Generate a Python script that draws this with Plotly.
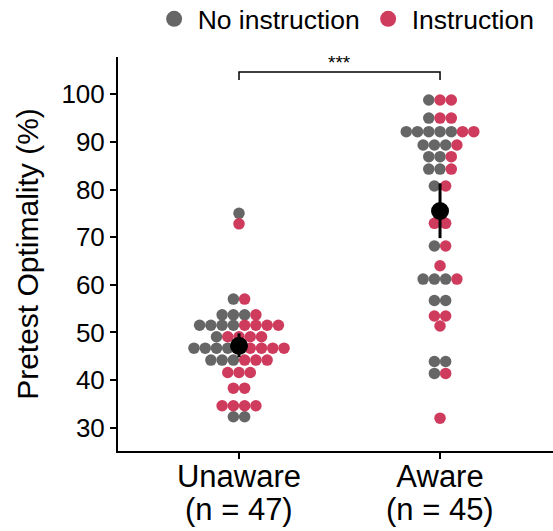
import plotly.graph_objects as go

# Groups on the x axis
categories = ["Unaware", "Aware"]
conditions = ["No instruction", "Instruction"]

# Pretest optimality (%) per participant
unaware_no_instruction = [75.0, 57.0, 53.7, 53.7, 53.7, 51.5, 51.5, 51.5, 51.5, 49.1,
                          46.7, 46.7, 46.7, 46.7, 46.7, 44.2, 44.2, 44.2, 32.3, 32.3]
unaware_instruction = [72.8, 57.0, 53.7, 51.5, 51.5, 51.5, 51.5, 49.1, 49.1, 49.1, 49.1,
                       46.7, 46.7, 46.7, 46.7, 44.2, 44.2, 44.2, 41.6, 41.6, 41.6,
                       38.3, 38.3, 34.6, 34.6, 34.6, 34.6]
aware_no_instruction = [98.8, 95.0, 92.15, 92.15, 92.15, 92.15, 92.15, 89.35, 89.35, 89.35,
                        86.9, 86.9, 84.3, 84.3, 80.75, 75.5, 68.15, 61.2, 61.2, 61.2,
                        56.7, 56.7, 43.9, 43.9, 41.4]
aware_instruction = [98.8, 98.8, 95.0, 95.0, 92.15, 92.15, 89.35, 86.9, 84.3, 80.75,
                     72.9, 72.9, 68.15, 64.0, 61.2, 53.45, 53.45, 51.35, 41.4, 32.0]

# Group means with 95% confidence intervals
group_means = [47.2, 75.5]
ci_low = [44.8, 69.8]
ci_high = [49.8, 81.3]

y_ticks = [30, 40, 50, 60, 70, 80, 90, 100]

colors = {"No instruction": "#666666", "Instruction": "#CF3B5C"}

DOT_STEP = 0.056  # horizontal spacing between neighbouring dots (x units)


def swarm(groups, center):
    """Lay out dots of equal value side by side, centred on the category."""
    rows = {}
    for gi, vals in enumerate(groups):
        for v in vals:
            rows.setdefault(v, []).append(gi)
    out = {gi: ([], []) for gi in range(len(groups))}
    for v, members in rows.items():
        members = sorted(members)
        n = len(members)
        for i, gi in enumerate(members):
            out[gi][0].append(center + (i - (n - 1) / 2) * DOT_STEP)
            out[gi][1].append(v)
    return out


group_data = [
    [unaware_no_instruction, unaware_instruction],
    [aware_no_instruction, aware_instruction],
]
layouts = [swarm(groups, ci + 1) for ci, groups in enumerate(group_data)]
group_n = [sum(len(g) for g in groups) for groups in group_data]

fig = go.Figure()

for gi, cond in enumerate(conditions):
    xs = [x for lay in layouts for x in lay[gi][0]]
    ys = [y for lay in layouts for y in lay[gi][1]]
    fig.add_trace(go.Scatter(
        x=xs, y=ys, mode="markers", showlegend=False,
        marker=dict(size=11.5, color=colors[cond], line=dict(width=0)),
    ))
    # legend entry with a larger key
    fig.add_trace(go.Scatter(
        x=[None], y=[None], mode="markers", name=cond,
        marker=dict(size=16, color=colors[cond]),
    ))

fig.add_trace(go.Scatter(
    x=[1, 2], y=group_means, mode="markers", showlegend=False,
    marker=dict(size=18, color="black"),
    error_y=dict(type="data", symmetric=False,
                 array=[h - m for h, m in zip(ci_high, group_means)],
                 arrayminus=[m - l for l, m in zip(ci_low, group_means)],
                 color="black", thickness=3, width=0),
))

# Significance bracket between the two groups
bracket_y = 104.7
bracket_drop = 1.7
fig.add_shape(type="path",
              path=f"M 1 {bracket_y - bracket_drop} L 1 {bracket_y} L 2 {bracket_y} L 2 {bracket_y - bracket_drop}",
              line=dict(color="black", width=1.5), xref="x", yref="y")
fig.add_annotation(x=1.5, y=bracket_y, text="***", showarrow=False,
                   yanchor="bottom", yshift=-3, font=dict(size=19, color="black"))

# Sample sizes under the category names
for ci, n in enumerate(group_n):
    fig.add_annotation(x=ci + 1, y=-0.148, xref="x", yref="paper",
                       text=f"(n = {n})", showarrow=False, yanchor="middle",
                       font=dict(size=31, color="black"))

font_family = "Liberation Sans, Arial, sans-serif"

fig.update_layout(
    width=553, height=531,
    margin=dict(l=118, r=0, t=57, b=80, autoexpand=False),
    plot_bgcolor="white", paper_bgcolor="white",
    font=dict(family=font_family, color="black"),
    legend=dict(orientation="h", x=0.075, y=1.157, xanchor="left", yanchor="top",
                font=dict(size=26.5), itemsizing="trace", itemwidth=37,
                tracegroupgap=0, bgcolor="rgba(0,0,0,0)"),
    showlegend=True,
)

fig.update_xaxes(
    range=[0.398, 2.562], tickmode="array", tickvals=[1, 2], ticktext=categories,
    showline=True, linecolor="black", linewidth=2, ticks="outside", ticklen=6,
    tickwidth=2, tickcolor="black", showgrid=False, zeroline=False,
    tickfont=dict(size=31), automargin=False, ticklabelstandoff=-9,
)
fig.update_yaxes(
    range=[25.11, 107.83], tickmode="array", tickvals=y_ticks,
    showline=True, linecolor="black", linewidth=2, ticks="outside", ticklen=6,
    tickwidth=2, tickcolor="black", showgrid=False, zeroline=False,
    tickfont=dict(size=26), automargin=False,
    title=dict(text="Pretest Optimality (%)", font=dict(size=30), standoff=14),
)

fig.write_html("out.html")
